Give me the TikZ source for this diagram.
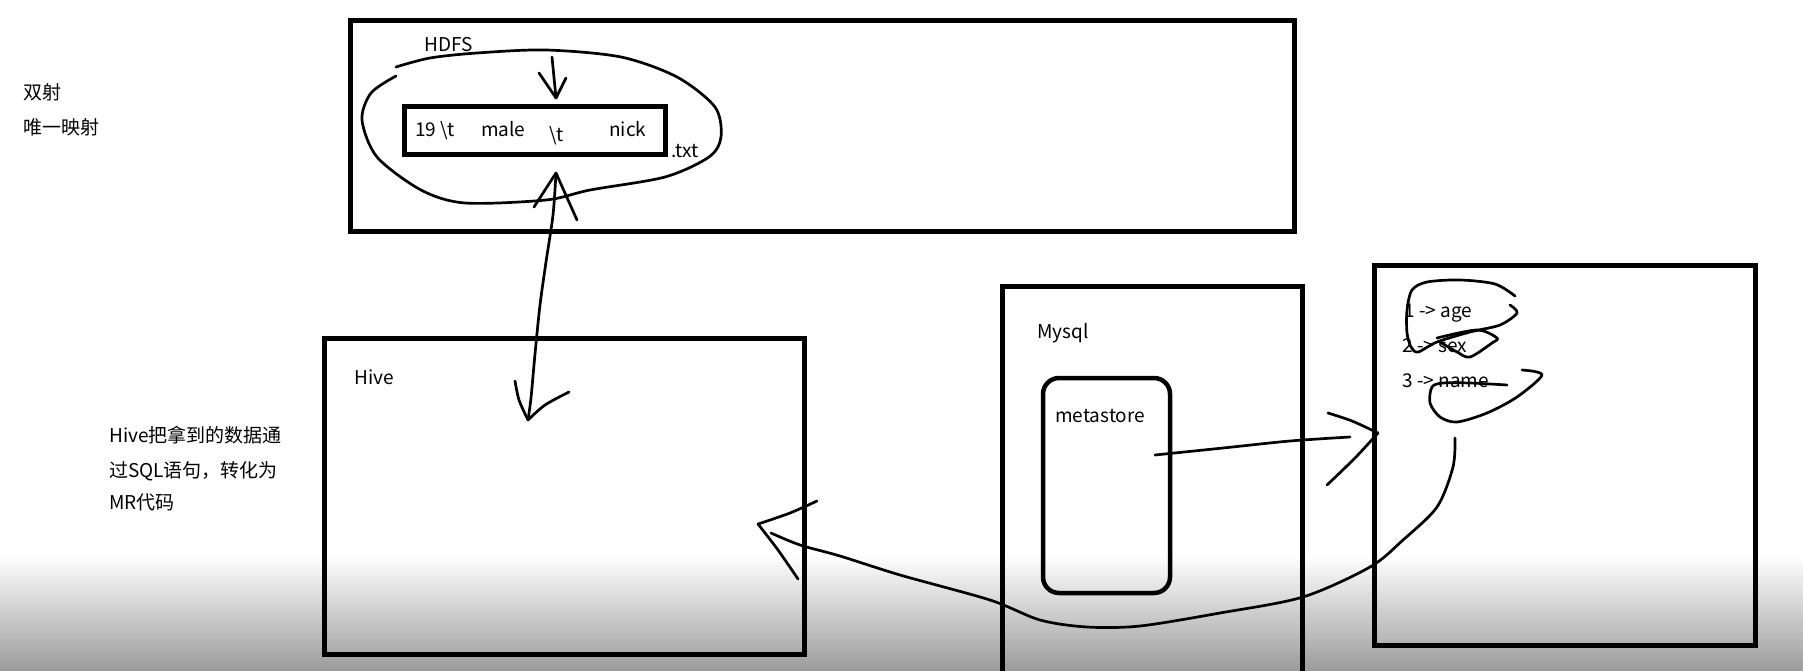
\documentclass[tikz,border=0pt]{standalone}
\usepackage{fontspec}
\setmainfont{Noto Sans CJK SC}
\begin{document}
\begin{tikzpicture}[x=1pt,y=-1pt,
  frame/.style={draw, line width=5pt, inner sep=0pt, outer sep=0pt, anchor=north west},
  ink/.style={line width=2.7pt, line cap=round, line join=round},
  lbl/.style={inner sep=0pt, anchor=base west, font=\fontsize{19}{23}\selectfont, text=black}]
\clip (0,0) rectangle (1803,671);
\fill[white] (0,0) rectangle (1803,671);
\shade[top color=white, middle color=black!13, bottom color=black!39] (0,555) rectangle (1803,671);

% boxes
\node[frame, minimum width=944pt, minimum height=210pt] (hdfs) at (350,21) {};
\node[frame, minimum width=261pt, minimum height=48pt] (txt) at (404,107) {};
\node[frame, minimum width=480pt, minimum height=316pt] (hive) at (324,338) {};
\node[frame, minimum width=300pt, minimum height=420pt] (mysql) at (1002,286) {};
\node[frame, line width=4.5pt, rounded corners=16pt, minimum width=127pt, minimum height=215pt] (meta) at (1043,378) {};
\node[frame, minimum width=381pt, minimum height=380pt] (mapbox) at (1374,265) {};

% labels
\node[lbl] (hdfslbl) at (424,52) {HDFS};
\node[lbl] (f1) at (415,137) {19 \textbackslash t};
\node[lbl] (f2) at (481,137) {male};
\node[lbl] (f3) at (549,142) {\textbackslash t};
\node[lbl] (f4) at (609,137) {nick};
\node[lbl] (ext) at (671,158) {.txt};
\node[lbl] (hivelbl) at (354,384) {Hive};
\node[lbl] (mysqllbl) at (1037,338) {Mysql};
\node[lbl] (metalbl) at (1055,422) {metastore};
\node[lbl] (m1) at (1404,317) {1 -> age};
\node[lbl] (m2) at (1402,352) {2 -> sex};
\node[lbl] (m3) at (1402,387) {3 -> name};
\node[lbl] (n1) at (23,100) {双射};
\node[lbl] (n2) at (23,135) {唯一映射};
\node[lbl] (h1) at (109,442) {Hive把拿到的数据通};
\node[lbl] (h2) at (109,477) {过SQL语句，转化为};
\node[lbl] (h3) at (109,509) {MR代码};

% ellipse around the file
\draw[ink] plot[smooth] coordinates {(396,67) (430,58) (477,53) (546,50) (621,57) (677,77) (715,107) (721,137) (709,157) (665,177) (590,190) (546,200) (465,203) (421,190) (377,157) (362,120) (371,93) (396,76)};

% down arrow into the file
\coordinate (dA) at (552,57);
\coordinate (dB) at (556,98);
\draw[ink] (dA) -- (dB);
\draw[ink] (539,73) -- (dB) -- (566,78);

% double arrow file <-> Hive
\coordinate (upTip) at (556,173);
\coordinate (hiveTip) at (528,420);
\draw[ink] plot[smooth] coordinates {(upTip) (553,215) (546,262) (540,305) (535,354) (531,398) (hiveTip)};
\draw[ink] (534,207) -- (upTip) -- (577,220);
\draw[ink] plot[smooth] coordinates {(515,381) (519,400) (hiveTip)};
\draw[ink] plot[smooth] coordinates {(hiveTip) (545,405) (569,392)};

% metastore -> mapping box
\coordinate (mS) at (1155,455);
\coordinate (mE) at (1350,437);
\coordinate (mTip) at (1378,433);
\draw[ink] plot[smooth] coordinates {(mS) (1223,448) (1290,441) (mE)};
\draw[ink] plot[smooth] coordinates {(1328,413) (1352,421) (mTip)};
\draw[ink] plot[smooth] coordinates {(mTip) (1355,458) (1327,485)};

% mapping box -> Hive
\coordinate (cS) at (1455,438);
\coordinate (cE) at (771,533);
\coordinate (cTip) at (758,524);
\draw[ink] plot[smooth] coordinates {(cS) (1453,467) (1437,507) (1403,540) (1370,567) (1303,597) (1220,613) (1140,626) (1087,627) (1040,620) (990,600) (900,575) (840,556) (800,545) (cE)};
\draw[ink] plot[smooth] coordinates {(817,501) (790,513) (cTip)};
\draw[ink] plot[smooth] coordinates {(cTip) (778,550) (798,579)};

% scribbles over the mapping text
\draw[ink] plot[smooth] coordinates {(1515,296) (1495,284) (1460,280) (1427,282) (1412,290) (1407,310) (1407,333) (1411,347) (1418,352) (1437,342) (1470,332) (1500,325) (1517,313) (1510,305)};
\draw[ink] plot[smooth] coordinates {(1437,338) (1477,330) (1497,338) (1492,343) (1470,357) (1457,352) (1440,342)};
\draw[ink] plot[smooth] coordinates {(1507,385) (1470,383) (1443,383) (1432,387) (1430,403) (1440,417) (1457,422) (1487,413) (1517,397) (1542,375) (1522,370)};
\end{tikzpicture}
\end{document}
